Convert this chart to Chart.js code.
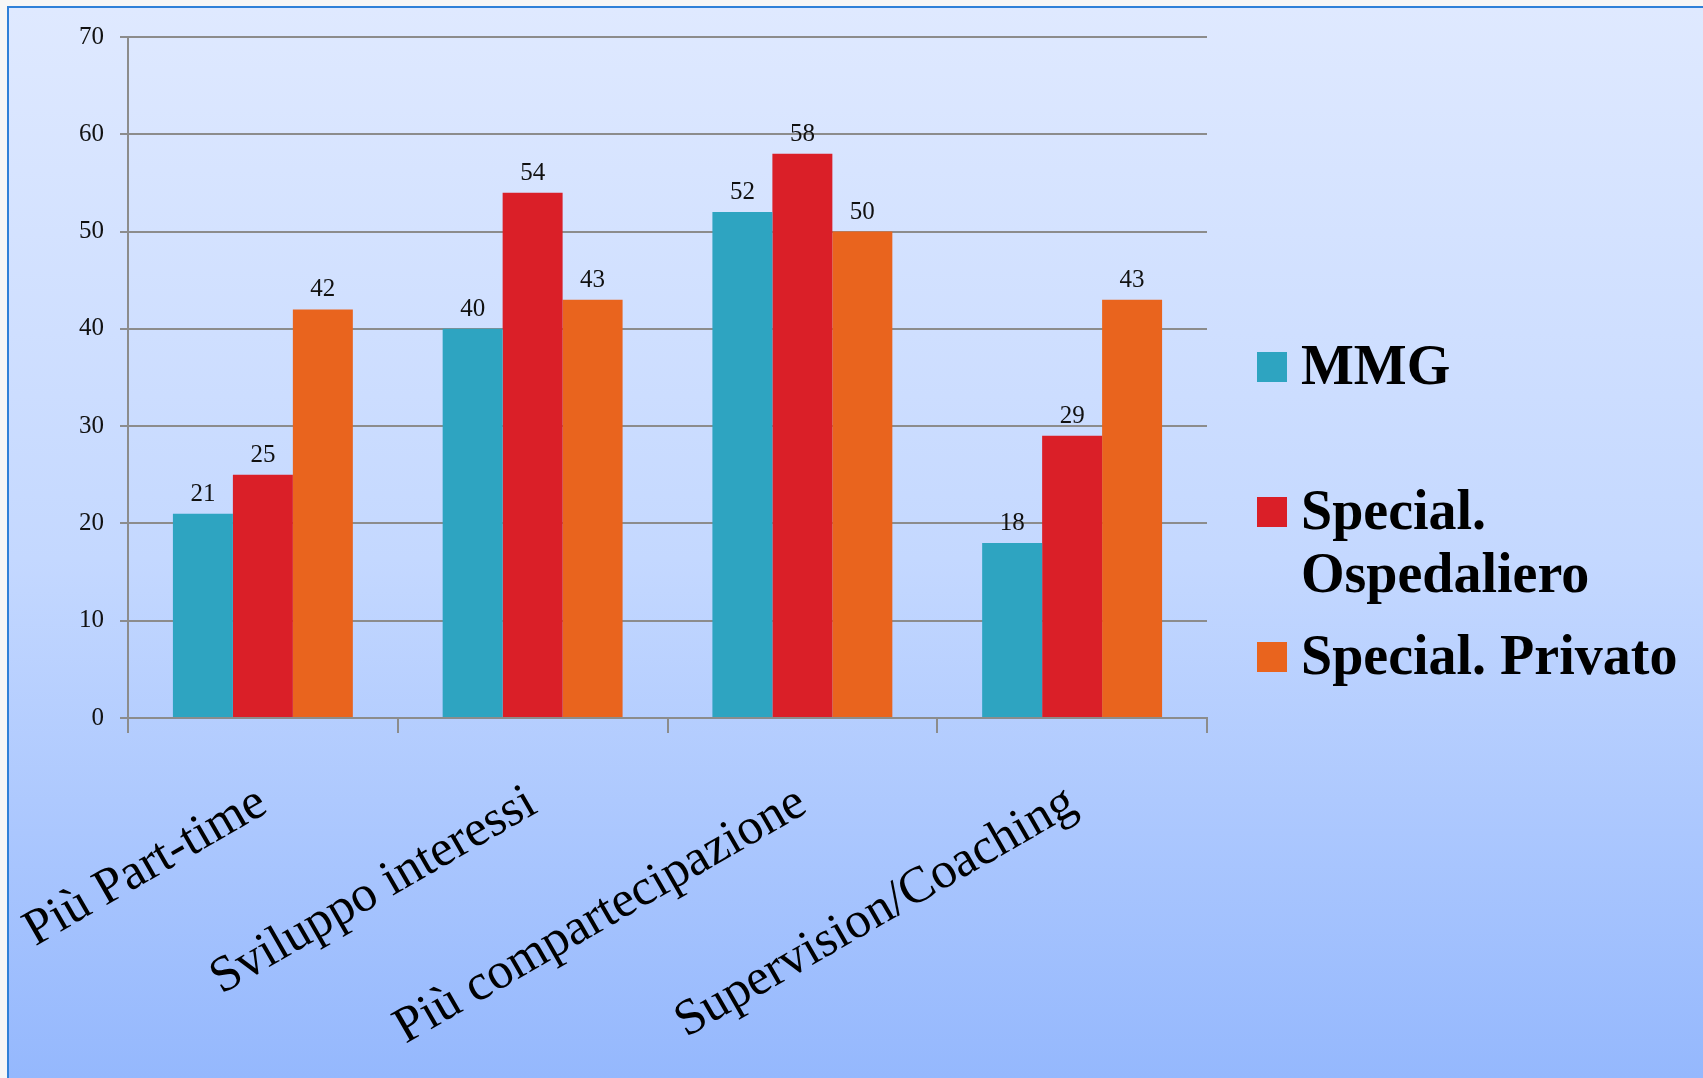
<!DOCTYPE html>
<html>
<head>
<meta charset="utf-8">
<script src="https://cdn.jsdelivr.net/npm/chart.js@4/dist/chart.umd.min.js"></script>
<style>
  html, body { margin: 0; padding: 0; width: 1703px; height: 1078px; overflow: hidden; background: #f6f6f6; }
  #panel {
    position: absolute; left: 7px; top: 6px; width: 1720px; height: 1100px;
    border-top: 2px solid #2f80d8; border-left: 2px solid #2f80d8;
    background: linear-gradient(to bottom, #dfe9ff 0%, #c4d8ff 50%, #92b6fd 100%);
  }
  #wrap { position: absolute; left: 0; top: 0; width: 1703px; height: 1078px; }
</style>
</head>
<body>
<div id="panel"></div>
<div id="wrap"><canvas id="chart" width="1703" height="1078"></canvas></div>
<script>
// Categories and survey percentages per group
const categories = ['Più Part-time', 'Sviluppo interessi', 'Più compartecipazione', 'Supervision/Coaching'];
const seriesNames = ['MMG', 'Special. Ospedaliero', 'Special. Privato'];
const mmg = [21, 40, 52, 18];
const ospedaliero = [25, 54, 58, 29];
const privato = [42, 43, 50, 43];
const seriesColors = ['#2ea4c1', '#da1f28', '#e9641e'];
const yTicks = [0, 10, 20, 30, 40, 50, 60, 70];

const FONT = '"Liberation Serif", "DejaVu Serif", serif';
const GRID = '#8c8c8c';

// Value labels above each bar
const valueLabels = {
  id: 'valueLabels',
  afterDatasetsDraw(chart) {
    const ctx = chart.ctx;
    ctx.save();
    ctx.font = '25px ' + FONT;
    ctx.fillStyle = '#111';
    ctx.textAlign = 'center';
    ctx.textBaseline = 'alphabetic';
    chart.data.datasets.forEach((ds, i) => {
      chart.getDatasetMeta(i).data.forEach((bar, j) => {
        ctx.fillText(String(ds.data[j]), bar.x, bar.y - 13);
      });
    });
    ctx.restore();
  }
};

// Legend drawn at the right side, with word wrapping for long names
const sideLegend = {
  id: 'sideLegend',
  afterDraw(chart) {
    const ctx = chart.ctx;
    const x0 = 1257, box = 30, textX = 1301, maxW = 440, lineH = 63, step = 145;
    let cy = 367;
    ctx.save();
    ctx.font = 'bold 56px ' + FONT;
    ctx.textBaseline = 'alphabetic';
    ctx.textAlign = 'left';
    chart.data.datasets.forEach((ds) => {
      ctx.fillStyle = ds.backgroundColor;
      ctx.fillRect(x0, cy - box / 2, box, box);
      const words = ds.label.split(' ');
      const lines = [];
      let cur = '';
      words.forEach(w => {
        const t = cur ? cur + ' ' + w : w;
        if (cur && ctx.measureText(t).width > maxW) { lines.push(cur); cur = w; }
        else cur = t;
      });
      lines.push(cur);
      ctx.fillStyle = '#000';
      lines.forEach((ln, k) => ctx.fillText(ln, textX, cy + 17 + k * lineH));
      cy += step;
    });
    ctx.restore();
  }
};

new Chart(document.getElementById('chart'), {
  type: 'bar',
  data: {
    labels: categories,
    datasets: [
      { label: seriesNames[0], data: mmg, backgroundColor: seriesColors[0] },
      { label: seriesNames[1], data: ospedaliero, backgroundColor: seriesColors[1] },
      { label: seriesNames[2], data: privato, backgroundColor: seriesColors[2] }
    ].map(d => Object.assign(d, { borderWidth: 0, categoryPercentage: 0.667, barPercentage: 1.0 }))
  },
  options: {
    responsive: false,
    animation: false,
    layout: { padding: { left: 0, right: 496, top: 37, bottom: 0 } },
    plugins: { legend: { display: false }, tooltip: { enabled: false } },
    scales: {
      y: {
        min: 0, max: 70,
        afterBuildTicks(scale) { scale.ticks = yTicks.map(v => ({ value: v })); },
        afterFit(scale) { scale.width = 128; scale.paddingTop = 0; scale.paddingBottom = 0; },
        ticks: { font: { family: FONT, size: 25 }, color: '#111', padding: 16 },
        grid: { color: GRID, lineWidth: 2, tickLength: 8 },
        border: { color: GRID, width: 2 }
      },
      x: {
        afterFit(scale) { scale.height = 1078 - 718; scale.paddingLeft = 0; scale.paddingRight = 0; },
        ticks: {
          font: { family: FONT, size: 51 }, color: '#000',
          minRotation: 30, maxRotation: 30, padding: 40, autoSkip: false
        },
        grid: { drawOnChartArea: false, color: GRID, lineWidth: 2, tickLength: 15, offset: true },
        border: { color: GRID, width: 2 }
      }
    }
  },
  plugins: [valueLabels, sideLegend]
});
</script>
</body>
</html>
